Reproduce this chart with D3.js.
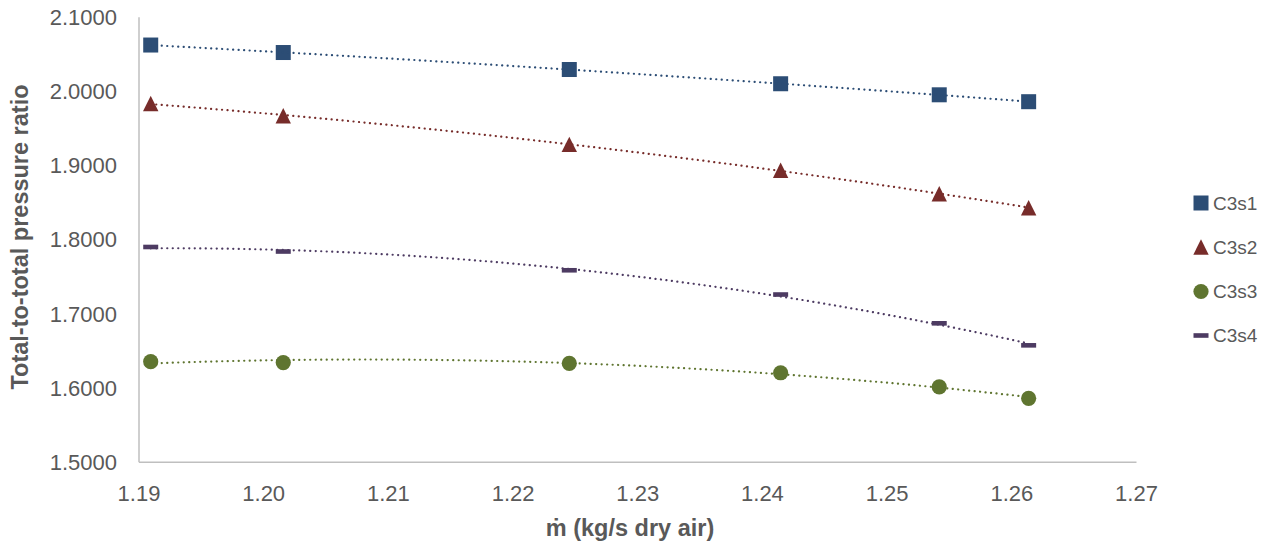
<!DOCTYPE html>
<html>
<head>
<meta charset="utf-8">
<script src="https://cdn.jsdelivr.net/npm/d3@7"></script>
<style>
  html, body { margin: 0; padding: 0; background: #fff; }
  svg { display: block; }
  text { font-family: "Liberation Sans", Arial, sans-serif; }
</style>
</head>
<body>
<svg id="chart" width="1270" height="545"></svg>
<script>
// ---- data ----
const massFlow = [1.19098, 1.20161, 1.22455, 1.24150, 1.25422, 1.26139];
const seriesNames = ["C3s1", "C3s2", "C3s3", "C3s4"];
const c3s1 = [2.0618, 2.0517, 2.0288, 2.0096, 1.9947, 1.9854];
const c3s2 = [1.9829, 1.9664, 1.9279, 1.8929, 1.8613, 1.8425];
const c3s3 = [1.6348, 1.6337, 1.6327, 1.6199, 1.6010, 1.5855];
const c3s4 = [1.7895, 1.7834, 1.7581, 1.7254, 1.6866, 1.6569];
const xTicks = [1.19, 1.20, 1.21, 1.22, 1.23, 1.24, 1.25, 1.26, 1.27];
const yTicks = [1.5, 1.6, 1.7, 1.8, 1.9, 2.0, 2.1];
const xTitle = "ṁ (kg/s dry air)";
const yTitle = "Total-to-total pressure ratio";

const seriesValues = [c3s1, c3s2, c3s3, c3s4];
const colors = ["#2C4D75", "#772C2A", "#5F7530", "#4D3B62"];
const shapes = ["square", "triangle", "circle", "dash"];

// ---- layout ----
const svg = d3.select("#chart");
const x = d3.scaleLinear().domain([1.19, 1.27]).range([138.5, 1136]);
const y = d3.scaleLinear().domain([1.5, 2.1]).range([461.7, 16.7]);
const textColor = "#595959";
const axisColor = "#BFBFBF";

// axes lines
const xAxis = d3.axisBottom(x).tickValues(xTicks).tickFormat(d3.format(".2f")).tickSize(0).tickPadding(0);
const gx = svg.append("g").attr("transform", `translate(0,${y(1.5)})`).call(xAxis);
gx.select(".domain").attr("stroke", axisColor).attr("stroke-width", 1.5);
gx.selectAll("text").attr("fill", textColor).attr("font-size", 22)
  .attr("dy", null).attr("y", 39);

const yAxis = d3.axisLeft(y).tickValues(yTicks).tickFormat(d3.format(".4f")).tickSize(0).tickPadding(0);
const gy = svg.append("g").attr("transform", `translate(${x(1.19)},0)`).call(yAxis);
gy.select(".domain").attr("stroke", axisColor).attr("stroke-width", 1.5);
gy.selectAll("text").attr("fill", textColor).attr("font-size", 22)
  .attr("x", -21.5).attr("dy", "0.35em");

// axis titles
svg.append("text").attr("x", 630).attr("y", 536).attr("text-anchor", "middle")
  .attr("font-size", 23.5).attr("font-weight", "bold").attr("fill", textColor).text(xTitle);
svg.append("text").attr("transform", "translate(28,237) rotate(-90)").attr("text-anchor", "middle")
  .attr("font-size", 23.5).attr("font-weight", "bold").attr("fill", textColor).text(yTitle);

// ---- marker drawing ----
function drawMarker(g, shape, cx, cy, color) {
  if (shape === "square") {
    g.append("rect").attr("x", cx - 7.5).attr("y", cy - 7.5).attr("width", 15).attr("height", 15)
      .attr("fill", color);
  } else if (shape === "triangle") {
    g.append("path").attr("d", `M${cx},${cy - 7.7}L${cx + 7.7},${cy + 7.7}L${cx - 7.7},${cy + 7.7}Z`)
      .attr("fill", color);
  } else if (shape === "circle") {
    g.append("circle").attr("cx", cx).attr("cy", cy).attr("r", 7.6).attr("fill", color);
  } else if (shape === "dash") {
    g.append("rect").attr("x", cx - 7.5).attr("y", cy - 2.3).attr("width", 15).attr("height", 4.6)
      .attr("fill", color);
  }
}

// polynomial (order 2) least-squares trendline, like the spreadsheet's trendline
function quadFit(xs, ys) {
  const m = d3.mean(xs);
  const u = xs.map(v => v - m);
  let S = [0, 0, 0, 0, 0], T = [0, 0, 0];
  u.forEach((ui, i) => {
    for (let k = 0; k < 5; k++) S[k] += Math.pow(ui, k);
    for (let k = 0; k < 3; k++) T[k] += ys[i] * Math.pow(ui, k);
  });
  // solve 3x3 normal equations
  const A = [[S[0], S[1], S[2], T[0]], [S[1], S[2], S[3], T[1]], [S[2], S[3], S[4], T[2]]];
  for (let i = 0; i < 3; i++) {
    let p = i;
    for (let r = i + 1; r < 3; r++) if (Math.abs(A[r][i]) > Math.abs(A[p][i])) p = r;
    [A[i], A[p]] = [A[p], A[i]];
    for (let r = 0; r < 3; r++) {
      if (r === i) continue;
      const f = A[r][i] / A[i][i];
      for (let c = i; c < 4; c++) A[r][c] -= f * A[i][c];
    }
  }
  const c = [A[0][3] / A[0][0], A[1][3] / A[1][1], A[2][3] / A[2][2]];
  return xv => { const t = xv - m; return c[0] + c[1] * t + c[2] * t * t; };
}

const line = d3.line().x(d => x(d[0])).y(d => y(d[1])).curve(d3.curveLinear);
const marks = svg.append("g");
const trends = svg.append("g");

seriesValues.forEach((vals, si) => {
  const g = marks.append("g");
  vals.forEach((v, i) => drawMarker(g, shapes[si], x(massFlow[i]), y(v), colors[si]));
  const f = quadFit(massFlow, vals);
  const x0 = d3.min(massFlow), x1 = d3.max(massFlow);
  const pts = d3.range(0, 201).map(k => { const xv = x0 + (x1 - x0) * k / 200; return [xv, f(xv)]; });
  trends.append("path").attr("d", line(pts)).attr("fill", "none")
    .attr("stroke", colors[si]).attr("stroke-width", 2.2)
    .attr("stroke-linecap", "round").attr("stroke-dasharray", "0.1,5.4");
});

// ---- legend ----
const legendY = [203, 247, 291.5, 335.5];
const legend = svg.append("g");
seriesNames.forEach((name, si) => {
  drawMarker(legend, shapes[si], 1201, legendY[si], colors[si]);
  legend.append("text").attr("x", 1213).attr("y", legendY[si]).attr("dy", "0.36em")
    .attr("font-size", 19).attr("fill", textColor).text(name);
});
</script>
</body>
</html>
